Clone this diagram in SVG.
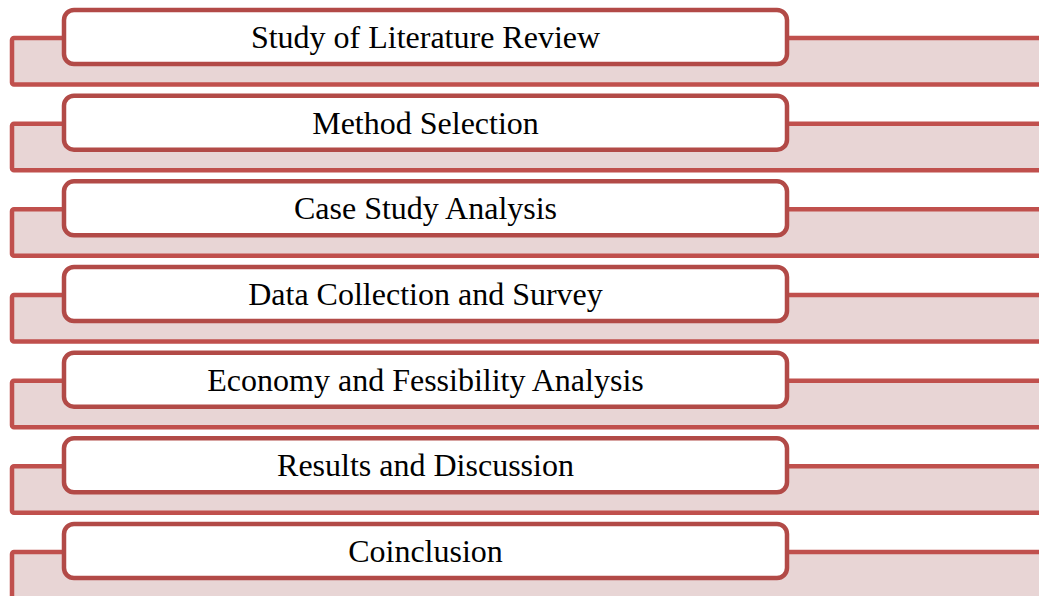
<svg xmlns="http://www.w3.org/2000/svg" width="1039" height="596" viewBox="0 0 1039 596">
<style>
.bg{fill:#E8D5D5;stroke:#C0504D;stroke-width:4.5}
.box{fill:#FFFFFF;stroke:#B24A47;stroke-width:4.5}
.lbl{font-family:"Liberation Serif","Times New Roman",serif;font-size:32px;fill:#000;text-anchor:middle}
</style>
<rect width="1039" height="596" fill="#FFFFFF"/>
<g id="step1"><rect class="bg" x="12" y="38" width="1040" height="46.5" rx="2"/><rect class="box" x="64" y="10" width="723" height="54" rx="10"/><text class="lbl" x="425.5" y="48">Study of Literature Review</text></g>
<g id="step2"><rect class="bg" x="12" y="123.7" width="1040" height="46.5" rx="2"/><rect class="box" x="64" y="95.7" width="723" height="54" rx="10"/><text class="lbl" x="425.5" y="133.7">Method Selection</text></g>
<g id="step3"><rect class="bg" x="12" y="209.3" width="1040" height="46.5" rx="2"/><rect class="box" x="64" y="181.3" width="723" height="54" rx="10"/><text class="lbl" x="425.5" y="219.3">Case Study Analysis</text></g>
<g id="step4"><rect class="bg" x="12" y="295" width="1040" height="46.5" rx="2"/><rect class="box" x="64" y="267" width="723" height="54" rx="10"/><text class="lbl" x="425.5" y="305">Data Collection and Survey</text></g>
<g id="step5"><rect class="bg" x="12" y="380.7" width="1040" height="46.5" rx="2"/><rect class="box" x="64" y="352.7" width="723" height="54" rx="10"/><text class="lbl" x="425.5" y="390.7">Economy and Fessibility Analysis</text></g>
<g id="step6"><rect class="bg" x="12" y="466.3" width="1040" height="46.5" rx="2"/><rect class="box" x="64" y="438.3" width="723" height="54" rx="10"/><text class="lbl" x="425.5" y="476.3">Results and Discussion</text></g>
<g id="step7"><rect class="bg" x="12" y="552" width="1040" height="46.5" rx="2"/><rect class="box" x="64" y="524" width="723" height="54" rx="10"/><text class="lbl" x="425.5" y="562">Coinclusion</text></g>
<g id="connectors"></g>
</svg>
